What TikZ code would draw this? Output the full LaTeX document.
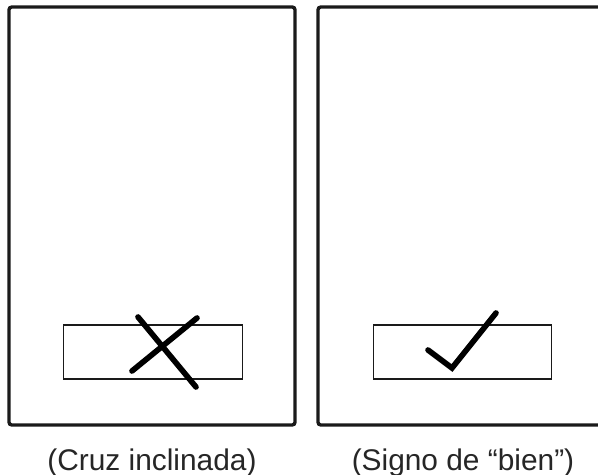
\documentclass[tikz,border=0pt]{standalone}
\usepackage{fontspec}
\setmainfont{Liberation Sans}
\usepackage{xcolor}
\usetikzlibrary{positioning, calc}
\definecolor{inkgray}{HTML}{1A1A1A}

\begin{document}
\begin{tikzpicture}[
    x=0.02cm, y=-0.02cm,
    panel/.style={rectangle, draw=inkgray, line width=1.9pt, rounded corners=1.5pt, minimum width=5.72cm, minimum height=8.36cm, inner sep=0pt},
    field/.style={rectangle, draw=inkgray, line width=0.6pt, minimum width=3.57cm, minimum height=1.08cm, inner sep=0pt},
    penstroke/.style={draw=black, line width=3.2pt, line cap=round},
    caption/.style={font=\fontsize{17}{20}\selectfont, text=black!85}
]
\useasboundingbox (0,0) rectangle (598,475);

\node[panel] (cruzpanel) at (152,216) {};
\node[panel] (bienpanel) at (461,216) {};

\node[field] (cruzfield) at (153,352) {};
\node[field] (bienfield) at (462.5,352) {};

% cruz inclinada
\coordinate (x1a) at (132,371);
\coordinate (x1b) at (197,318);
\coordinate (x2a) at (138,317);
\coordinate (x2b) at (196,387);
\draw[penstroke] (x1a) -- (x1b);
\draw[penstroke] (x2a) -- (x2b);

% signo de bien
\coordinate (c1) at (428,350);
\coordinate (c2) at (452,368);
\coordinate (c3) at (496,313);
\draw[penstroke, line join=miter] (c1) -- (c2) -- (c3);

\node[caption] (cruzlabel) at (152,463) {(Cruz inclinada)};
\node[caption] (bienlabel) at (463,463) {(Signo de “bien”)};

\end{tikzpicture}
\end{document}
